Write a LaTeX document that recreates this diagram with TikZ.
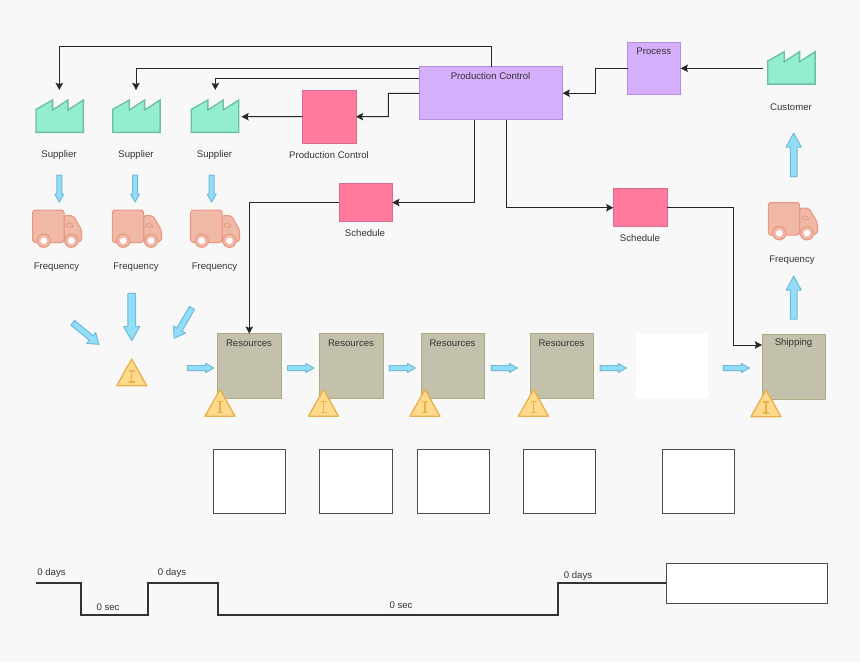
\documentclass[tikz,border=0pt]{standalone}
\usepackage{fontspec}
\setmainfont{Liberation Sans}
\usetikzlibrary{arrows.meta}
\definecolor{bgc}{HTML}{F8F8F8}
\definecolor{txtc}{HTML}{333333}
\definecolor{facf}{HTML}{93EDD0}
\definecolor{facs}{HTML}{6FBF9F}
\definecolor{trkf}{HTML}{F0B8A6}
\definecolor{trks}{HTML}{E8967E}
\definecolor{trif}{HTML}{FFD98C}
\definecolor{tris}{HTML}{E9B14C}
\definecolor{resf}{HTML}{C3C1AB}
\definecolor{ress}{HTML}{ACAA82}
\definecolor{purf}{HTML}{D5AEFC}
\definecolor{purs}{HTML}{B48FE0}
\definecolor{pnkf}{HTML}{FF7A9C}
\definecolor{pnks}{HTML}{DB6C8E}
\definecolor{bluf}{HTML}{92DDF8}
\definecolor{blus}{HTML}{70BBD9}
\tikzset{
  every node/.style={inner sep=0pt,outer sep=0pt,font=\fontsize{7.2pt}{8.6pt}\selectfont,text=txtc},
  base/.style={draw,line width=.75pt},
  resbox/.style={base,fill=resf,draw=ress},
  purbox/.style={base,fill=purf,draw=purs},
  pnkbox/.style={base,fill=pnkf,draw=pnks},
  whitebox/.style={draw=black!70,line width=.7pt,fill=white},
  blankbox/.style={fill=white},
  hitbox/.style={},
  conn/.style={draw=black!85,line width=.7pt,-{Stealth[length=5.4pt,width=5.6pt,inset=1pt]}},
  timeline/.style={draw=txtc,line width=1.5pt},
  blockarrow/.style={draw=blus,fill=bluf,line width=.75pt,line join=round},
  pics/factory/.style={code={
    \draw[fill=facf,draw=facs,line width=1pt] (-23.7,16.2) -- (-23.7,-6.8) -- (-7.1,-16.2) -- (-7.1,-6.2) -- (8.2,-16.2)
      -- (8.2,-6.2) -- (23.7,-16.2) -- (23.7,16.2) -- cycle;
  }},
  pics/truck/.style={code={
    \draw[fill=trkf,draw=trks,line width=.75pt,rounded corners=1.5pt] (31.3,5.7) -- (40.7,5.7) -- (49,20) -- (49,31.5) -- (31.3,32.5) -- cycle;
    \draw[fill=trkf,draw=trks,line width=.75pt,rounded corners=2pt] (0,0) rectangle (31.3,32.5);
    \draw[fill=trkf,draw=trks,line width=.6pt,rounded corners=1pt] (34,13.3) -- (38.5,13.3) -- (41,17.3) -- (34,17.3) -- cycle;
    \foreach \wx in {11,38.7}{
      \draw[fill=trkf,draw=trks,line width=.75pt] (\wx,30.7) circle [radius=5pt];
      \fill[white] (\wx,30.7) circle [radius=2.5pt];
    }
  }},
  pics/kanban/.style={code={
    \draw[fill=trif,draw=tris,line width=1pt,line join=round] (0,0) -- (15,26.7) -- (-15,26.7) -- cycle;
    \draw[draw=tris,line width=.8pt] (-3,12) -- (3,12) (0,12) -- (0,23) (-3,23) -- (3,23);
  }}
}
\newcommand{\bx}[6]{\node[#2,minimum width={(#5-#3)*0.75pt},minimum height={(#6-#4)*0.75pt}] (#1) at ({(#3+#5)/2},{(#4+#6)/2}) {};}
% tail x, tail y, angle, length, shaft half, head half, head length
\newcommand{\blk}[7]{\draw[blockarrow,shift={(#1,#2)},rotate=#3] (0,-#5) -- ({#4-#7},-#5) -- ({#4-#7},-#6) -- (#4,0) -- ({#4-#7},#6) -- ({#4-#7},#5) -- (0,#5) -- cycle;}
\begin{document}
\begin{tikzpicture}[x=.75pt,y=-.75pt]
\useasboundingbox (0,0) rectangle (860,662);
\fill[bgc] (0,0) rectangle (860,662);

% factories
\bx{s1}{hitbox}{36}{100}{83.4}{132.4}
\bx{s2}{hitbox}{112.7}{100}{160.1}{132.4}
\bx{s3}{hitbox}{191.3}{100}{238.7}{132.4}
\bx{cu}{hitbox}{767.7}{51.7}{815.1}{84.1}
\pic at (s1.center) {factory};
\pic at (s2.center) {factory};
\pic at (s3.center) {factory};
\pic at (cu.center) {factory};
\node (ls1) at (59,155) {Supplier};
\node (ls2) at (136,155) {Supplier};
\node (ls3) at (214.5,155) {Supplier};
\node (lcu) at (791,107) {Customer};

% trucks
\pic at (32.7,210) {truck};
\pic at (112.3,210) {truck};
\pic at (190.7,210) {truck};
\pic at (768.3,202.5) {truck};
\node (lf1) at (56.5,267.5) {Frequency};
\node (lf2) at (136,267.5) {Frequency};
\node (lf3) at (214.5,267.5) {Frequency};
\node (lf4) at (792,260) {Frequency};

% control boxes
\bx{pc}{purbox}{419.3}{66.7}{562.7}{119.7}
\node (lpc) at (490.5,76.3) {Production Control};
\bx{pr}{purbox}{627.5}{42}{680.7}{94.7}
\node (lpr) at (653.8,51.5) {Process};
\bx{pk}{pnkbox}{302.7}{90}{356}{143.3}
\node (lpk) at (329,155) {Production Control};
\bx{sa}{pnkbox}{339}{183.3}{392.3}{221.7}
\node (lsa) at (365,233.5) {Schedule};
\bx{sb}{pnkbox}{613.3}{188.7}{667}{226.7}
\node (lsb) at (640,238.5) {Schedule};

% process row
\bx{r1}{resbox}{217.3}{333.7}{281.3}{398}
\bx{r2}{resbox}{319.5}{333.7}{383.3}{398}
\bx{r3}{resbox}{421}{333.7}{484.3}{398}
\bx{r4}{resbox}{530}{333.7}{593.3}{398}
\bx{w1}{blankbox}{636}{334}{708}{398}
\bx{sh}{resbox}{762}{334}{825.3}{399}
\node (lr1) at (249,343.5) {Resources};
\node (lr2) at (351,343.5) {Resources};
\node (lr3) at (452.5,343.5) {Resources};
\node (lr4) at (561.5,343.5) {Resources};
\node (lsh) at (793.5,343.5) {Shipping};
\pic at (131.7,359) {kanban};
\pic at (220,389.5) {kanban};
\pic at (323.5,389.5) {kanban};
\pic at (425,389.5) {kanban};
\pic at (533.5,389.5) {kanban};
\pic at (766,390) {kanban};

% data boxes
\bx{d1}{whitebox}{213}{449}{285.7}{513.3}
\bx{d2}{whitebox}{319.7}{449}{392}{513.3}
\bx{d3}{whitebox}{417}{449}{489.7}{513.3}
\bx{d4}{whitebox}{523}{449}{595.7}{513.3}
\bx{d5}{whitebox}{662.3}{449}{734.7}{513.3}

% block arrows
\blk{59.3}{175}{-90}{27}{2.5}{4.5}{8}
\blk{135}{175}{-90}{27}{2.5}{4.5}{8}
\blk{211.7}{175}{-90}{27}{2.5}{4.5}{8}
\blk{131.7}{293.3}{-90}{47.4}{3.8}{8}{14}
\blk{72.7}{322.7}{-39.6}{34}{3}{7}{10}
\blk{192}{308}{-120.3}{35}{3}{7}{10}
\blk{187.3}{368}{0}{26.4}{2.5}{4.5}{8}
\blk{287.5}{368}{0}{26.4}{2.5}{4.5}{8}
\blk{389}{368}{0}{26.4}{2.5}{4.5}{8}
\blk{491}{368}{0}{26.4}{2.5}{4.5}{8}
\blk{600}{368}{0}{26.4}{2.5}{4.5}{8}
\blk{723}{368}{0}{26.4}{2.5}{4.5}{8}
\blk{793.7}{176.7}{90}{43.7}{3.3}{7.5}{14}
\blk{793.7}{319}{90}{43}{3.3}{7.5}{14}

% connectors
\coordinate (t1) at (59.3,90);
\coordinate (t2) at (136,90);
\coordinate (t3) at (215.3,90);
\coordinate (a1) at (59.3,46);
\coordinate (a2) at (419.3,68.3);
\coordinate (a3) at (419.3,78.3);
\coordinate (a4) at (419.3,93.3);
\draw[conn] (pc.north) -- (pc.north |- a1) -- (a1) -- (t1);
\draw[conn] (a2) -| (t2);
\draw[conn] (a3) -| (t3);
\coordinate (b4) at (388.3,93.3);
\coordinate (b5) at (388.3,116.7);
\draw[conn] (a4) -- (b4) -- (b5) -- (pk.east);
\coordinate (t4) at (241.5,116.7);
\draw[conn] (pk.west) -- (t4);
\coordinate (c1) at (474.3,119.7);
\coordinate (c2) at (474.3,202.5);
\draw[conn] (c1) -- (c2) -- (sa.east);
\coordinate (c3) at (249.3,202.5);
\coordinate (c4) at (249.3,333.7);
\draw[conn] (sa.west) -- (c3) -- (c4);
\coordinate (e1) at (506.3,119.7);
\coordinate (e2) at (506.3,207.7);
\draw[conn] (e1) -- (e2) -- (sb.west);
\coordinate (f1) at (733,207.7);
\coordinate (f2) at (733,345);
\coordinate (f3) at (762,345);
\draw[conn] (sb.east) -- (f1) -- (f2) -- (f3);
\coordinate (g1) at (627.5,68.3);
\coordinate (g2) at (595.3,68.3);
\coordinate (g3) at (595.3,93.2);
\coordinate (g4) at (562.7,93.2);
\draw[conn] (g1) -- (g2) -- (g3) -- (g4);
\coordinate (h1) at (763,68.3);
\coordinate (h2) at (680.7,68.3);
\draw[conn] (h1) -- (h2);

% timeline
\bx{tb}{whitebox}{666.3}{563}{827.7}{603}
\coordinate (k0) at (36,583);
\draw[timeline] (k0) -- (80.5,583) -- (80.5,615) -- (147.7,615) -- (147.7,583) -- (217.5,583) -- (217.5,615) -- (557.7,615) -- (557.7,583) -- (tb.west);
\node (t01) at (51.5,573.5) {0 days};
\node (t02) at (108,607) {0 sec};
\node (t03) at (172,573.5) {0 days};
\node (t04) at (401,605) {0 sec};
\node (t05) at (578,576) {0 days};
\end{tikzpicture}
\end{document}
